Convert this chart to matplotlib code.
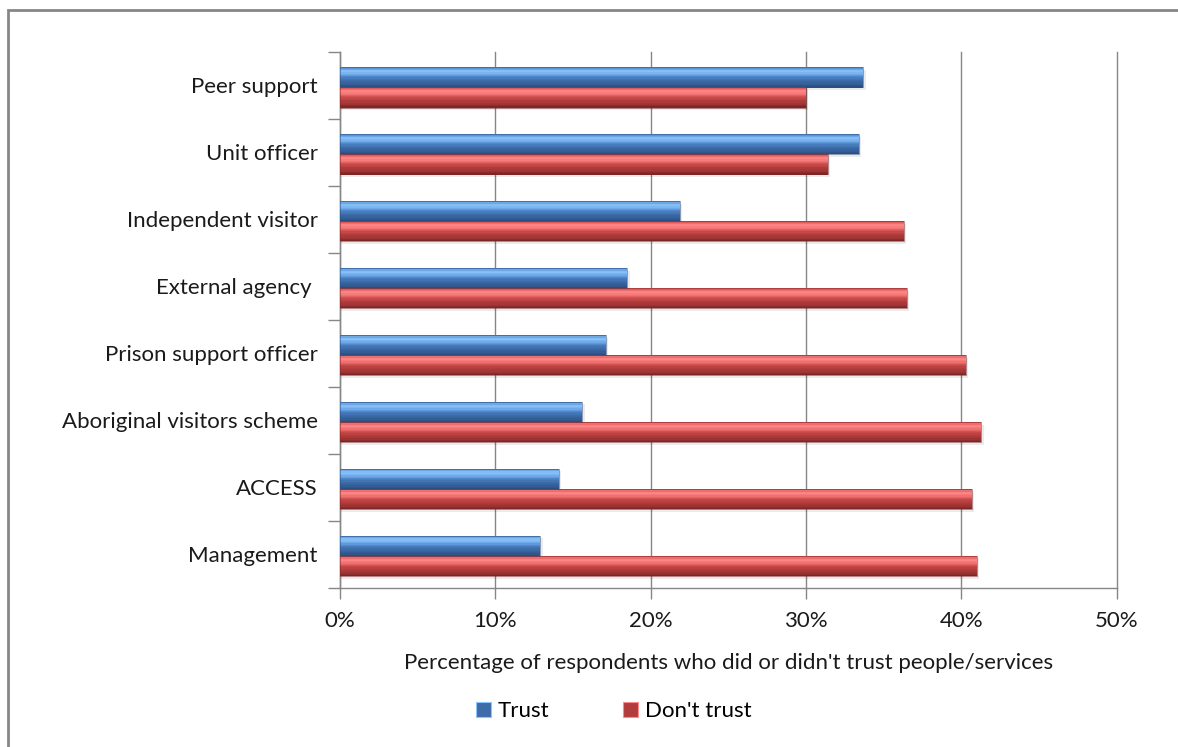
import numpy as np
import matplotlib
matplotlib.use("Agg")
import matplotlib.pyplot as plt
from matplotlib.patches import Patch, Rectangle
from matplotlib.ticker import FuncFormatter, FixedLocator

plt.rcParams['font.family'] = ['Lato', 'DejaVu Sans']

# survey results, percent of respondents
categories = ['Peer support', 'Unit officer', 'Independent visitor', 'External agency ',
              'Prison support officer', 'Aboriginal visitors scheme', 'ACCESS', 'Management']
trust = [33.7, 33.4, 21.9, 18.5, 17.1, 15.6, 14.1, 12.9]
dont_trust = [30.0, 31.4, 36.3, 36.5, 40.3, 41.3, 40.7, 41.0]
series_names = ['Trust', "Don't trust"]
x_ticks = [0, 10, 20, 30, 40, 50]

# colour stops from the top edge of a bar to its bottom edge (bevelled look)
BLUE = ['#5a93d6', '#8cc6fa', '#6fa9ea', '#4a80c4', '#3d6ca8', '#34609a', '#2a4f80']
RED = ['#e05a5a', '#ff8c8c', '#f07070', '#cc4b4b', '#b23c3c', '#a33636', '#7e2626']
FS = 16


def _lerp_colors(stops, n):
    rgb = np.array([matplotlib.colors.to_rgb(c) for c in stops])
    pos = np.linspace(0, 1, len(stops))
    t = np.linspace(0, 1, n)
    return [tuple(np.interp(v, pos, rgb[:, k]) for k in range(3)) for v in t]


def shaded_barh(ax, y, widths, height, stops, n=16):
    """Horizontal bars built from thin stripes so they look shaded."""
    y = np.asarray(y, dtype=float)
    # soft drop shadow
    ax.barh(y + height * 0.12, np.asarray(widths) + 0.15, height=height,
            left=0.0, color='#000000', alpha=0.08, linewidth=0, zorder=2)
    step = height / n
    for k, c in enumerate(_lerp_colors(stops, n)):
        # inverted y axis: stripe 0 is the top of the bar
        yc = y - height / 2 + step * (k + 0.5)
        ax.barh(yc, widths, height=step * 1.05, color=c, linewidth=0, zorder=3)
    ax.barh(y, widths, height=height, facecolor='none',
            edgecolor=matplotlib.colors.to_rgba(stops[-1], 0.6), linewidth=0.6, zorder=4)


fig = plt.figure(figsize=(11.78, 7.47), dpi=100)
ax = fig.add_axes([340 / 1178, 1 - 587.5 / 747, (1116.5 - 340) / 1178, (587.5 - 52) / 747])

idx = np.arange(len(categories))
h = 0.30
shaded_barh(ax, idx - h / 2 + 0.03, trust, h, BLUE)
shaded_barh(ax, idx + h / 2 + 0.03, dont_trust, h, RED)

ax.set_xlim(0, 50)
ax.set_ylim(len(categories) - 0.5, -0.5)

ax.set_xticks(x_ticks)
ax.xaxis.set_major_formatter(FuncFormatter(lambda v, _: f'{v:.0f}%'))
ax.set_yticks(idx)
ax.set_yticklabels(categories)
ax.yaxis.set_minor_locator(FixedLocator(np.arange(-0.5, len(categories), 1.0)))

ax.tick_params(axis='y', which='major', length=0, pad=16, labelsize=FS, labelcolor='#1a1a1a')
ax.tick_params(axis='y', which='minor', length=9, color='#868686', width=1)
ax.tick_params(axis='x', length=8, color='#868686', width=1, pad=9, labelsize=FS, labelcolor='#1a1a1a')

ax.grid(axis='x', color='#868686', linewidth=1)
for gl in ax.xaxis.get_gridlines():
    gl.set_clip_on(False)
ax.set_axisbelow(True)
for side in ('top', 'right'):
    ax.spines[side].set_visible(False)
for side in ('left', 'bottom'):
    ax.spines[side].set_color('#868686')
    ax.spines[side].set_linewidth(1)

ax.set_xlabel("Percentage of respondents who did or didn't trust people/services",
              fontsize=FS, color='#1a1a1a', labelpad=16)

handles = [Patch(facecolor=BLUE[4], edgecolor=BLUE[1], linewidth=0.8),
           Patch(facecolor=RED[4], edgecolor=RED[1], linewidth=0.8)]
fig.legend(handles, series_names, loc='center', bbox_to_anchor=(0.521, 0.048), ncol=2,
           frameon=False, fontsize=FS, handlelength=0.7, handleheight=0.7,
           handletextpad=0.3, columnspacing=3.3)

# chart area frame
fig.add_artist(Rectangle((8 / 1178, -0.5), 1.5, 0.5 + 1 - 10 / 747, transform=fig.transFigure,
                         fill=False, edgecolor='#868686', linewidth=2, clip_on=False))

fig.savefig('out.png', dpi=100, facecolor='white')
